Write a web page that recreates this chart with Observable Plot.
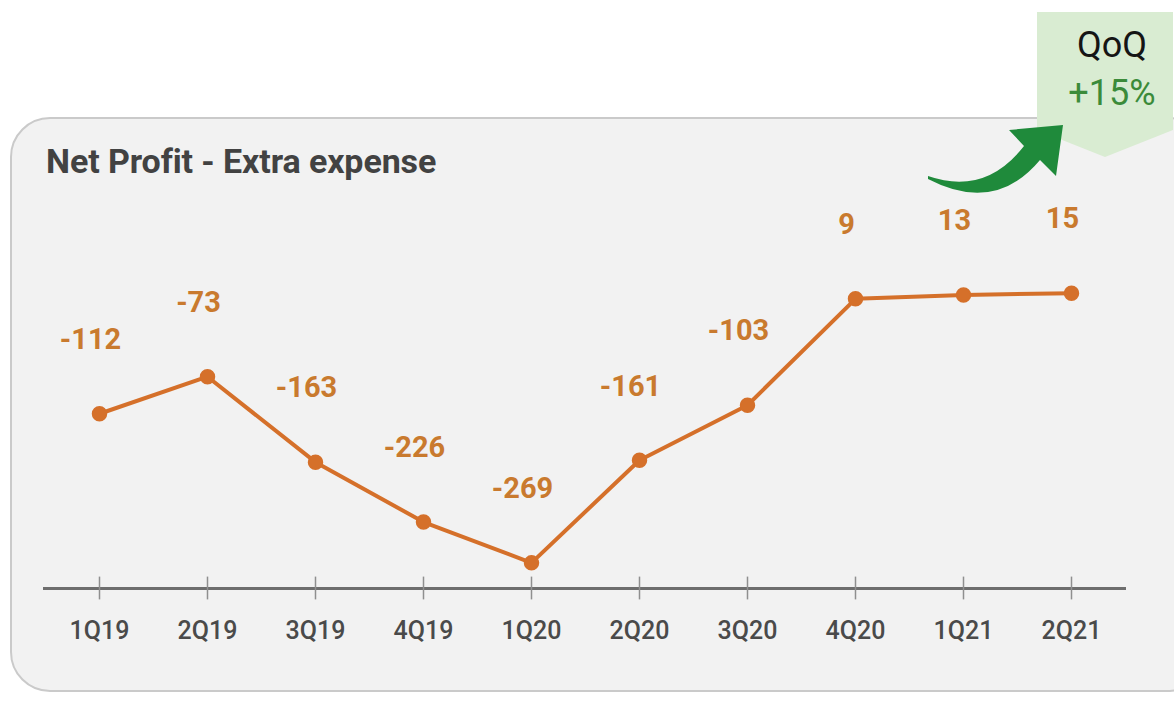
<!DOCTYPE html>
<html>
<head>
<meta charset="utf-8">
<script src="https://cdn.jsdelivr.net/npm/d3@7"></script>
<script src="https://cdn.jsdelivr.net/npm/@observablehq/plot@0.6"></script>
<style>
  html, body { margin: 0; padding: 0; background: #ffffff; width: 1174px; height: 701px; overflow: hidden; font-family: Roboto, "Noto Sans", sans-serif; }
  #panel { position: absolute; left: 10px; top: 117px; width: 1200px; height: 575px; background: #f2f2f2; border: 2px solid #cacaca; border-radius: 40px; box-sizing: border-box; }
  #title { position: absolute; left: 46px; top: 141px; font-size: 34px; font-weight: 700; color: #424242; letter-spacing: -0.1px; }
  #chart { position: absolute; left: 0; top: 0; }
  #deco { position: absolute; left: 0; top: 0; }
  .qoq { position: absolute; left: 1044px; width: 136px; text-align: center; }
</style>
</head>
<body>
<div id="panel"></div>
<div id="title">Net Profit - Extra expense</div>
<div id="chart"></div>
<svg id="deco" width="1174" height="701">
  <path d="M1037,12 L1173,12 L1173,130 L1105,157 L1037,130 Z" fill="#d9ecd2"/>
  <path d="M928,176 Q985,196 1024,146 L1009,130 L1063,125 L1056,176 L1040,160 Q995,214 928,179 Z" fill="#1f8a3b"/>
</svg>
<div class="qoq" style="top:24px;font-size:36px;color:#151515;">QoQ</div>
<div class="qoq" style="top:72px;font-size:36px;color:#3b8b3a;">+15%</div>
<script>
const quarters = ["1Q19","2Q19","3Q19","4Q19","1Q20","2Q20","3Q20","4Q20","1Q21","2Q21"];
const values = [-112, -73, -163, -226, -269, -161, -103, 9, 13, 15];
const data = quarters.map((q, i) => ({q, v: values[i]}));

const lineColor = "#d5702a";
const labelColor = "#c97a2e";

const chart = Plot.plot({
  width: 1174,
  height: 701,
  marginLeft: 43,
  marginRight: 48,
  marginTop: 0,
  marginBottom: 113,
  style: { background: "transparent", fontFamily: "Roboto, sans-serif", overflow: "visible" },
  x: { type: "point", domain: quarters, padding: 0.5, label: null },
  y: { domain: [-296, 22], range: [588, 286], axis: null },
  marks: [
    Plot.ruleY([-296], { stroke: "#6e6e6e", strokeWidth: 3 }),
    Plot.ruleX(quarters, { x: d => d, y1: -308, y2: -284, stroke: "#8f8f8f", strokeWidth: 1.5 }),
    Plot.axisX({ tickSize: 0, tickPadding: 33, fontSize: 25, fontWeight: 500, color: "#4a4a4a", label: null }),
    Plot.line(data, { x: "q", y: "v", stroke: lineColor, strokeWidth: 4 }),
    Plot.dot(data, { x: "q", y: "v", r: 7, fill: lineColor, stroke: lineColor }),
    Plot.text(data, { x: "q", y: "v", text: d => String(d.v), dy: -74, dx: -9, fill: labelColor, fontSize: 29, fontWeight: 700, lineAnchor: "middle" })
  ]
});
document.getElementById("chart").appendChild(chart);
</script>
</body>
</html>
